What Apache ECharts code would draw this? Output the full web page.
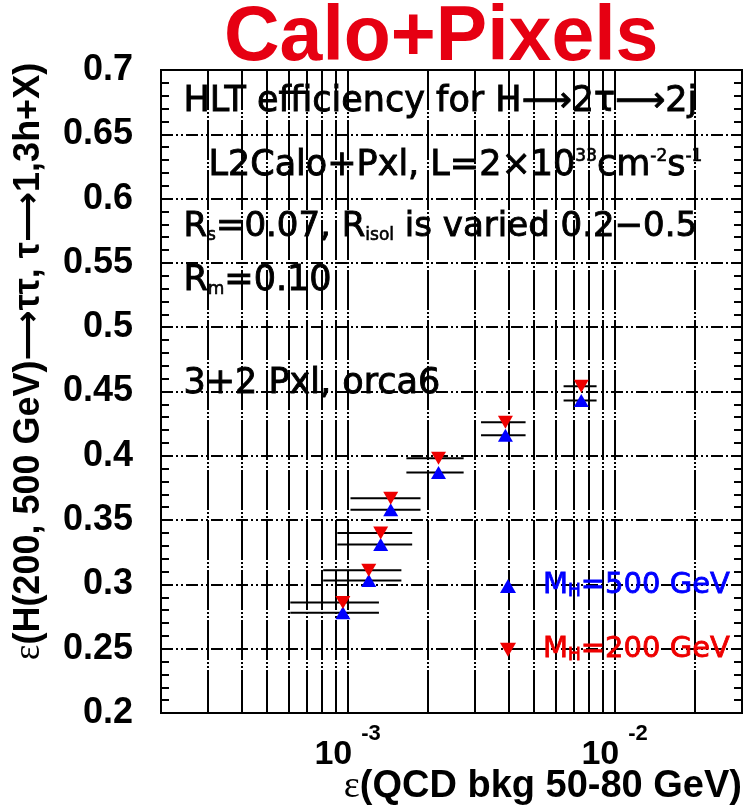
<!DOCTYPE html>
<html><head><meta charset="utf-8">
<script src="https://cdn.jsdelivr.net/npm/echarts@6/dist/echarts.min.js"></script>
<style>html,body{margin:0;padding:0;background:#fff}#c{width:745px;height:807px}</style>
</head><body><div id="c"></div>
<script>
// ---- data ----
const xTickValues = [2e-4,3e-4,4e-4,5e-4,6e-4,7e-4,8e-4,9e-4,1e-3,2e-3,3e-3,4e-3,5e-3,6e-3,7e-3,8e-3,9e-3,1e-2,2e-2,3e-2];
const xLabelValues = [1e-3, 1e-2];
const yMin = 0.2, yMax = 0.7, yStep = 0.05;
const bkgEff = [9.6e-4, 1.2e-3, 1.33e-3, 1.45e-3, 2.19e-3, 3.9e-3, 7.5e-3];
const bkgErr = [3.5e-4, 3.9e-4, 4.15e-4, 4.25e-4, 5.3e-4, 7.4e-4, 1.06e-3];
const effMH500 = [0.278, 0.303, 0.331, 0.358, 0.387, 0.416, 0.443];
const effMH200 = [0.286, 0.311, 0.340, 0.367, 0.398, 0.426, 0.454];
const seriesNames = ['M500', 'M200'];
const legendLabels = ['=500 GeV', '=200 GeV'];

const FONT = '"Liberation Sans", Arial, Helvetica, sans-serif';
const TFONT = '"DejaVu Sans", "Liberation Sans", sans-serif';
const BLUE = '#0000ff', RED = '#ee0000';
const DOWN_TRI = 'path://M0,0L10,0L5,8.7Z';

const chart = echarts.init(document.getElementById('c'));

function errSeries(yArr, name) {
  return {
    type: 'custom', name: name, silent: true, z: 3, clip: true,
    encode: {x: 0, y: 1},
    data: bkgEff.map((x, i) => [x, yArr[i], bkgErr[i]]),
    renderItem: function (params, api) {
      const x = api.value(0), y = api.value(1), e = api.value(2);
      const p1 = api.coord([x - e, y]), p2 = api.coord([x + e, y]);
      return {type: 'line', shape: {x1: p1[0], y1: p1[1], x2: p2[0], y2: p2[1]},
              style: {stroke: '#000', lineWidth: 2}};
    }
  };
}

const hGrid = [12, 3, 2, 3, 2, 3];
const vGrid = [40, 2, 2, 2, 2, 2];
const AR = {fontFamily: '"DejaVu Sans", sans-serif', fontWeight: 'bold', fontSize: 35, color: '#000'};
const TXT = {fontFamily: TFONT, fontSize: 35, fill: '#000', stroke: '#000', lineWidth: 0.9};
const SUB = {fontFamily: TFONT, fontSize: 17, fill: '#000', stroke: '#000', lineWidth: 0.6};

const option = {
  animation: false,
  backgroundColor: '#fff',
  title: {
    text: 'Calo+Pixels', left: 224, top: 0, padding: 0,
    textStyle: {fontFamily: FONT, fontSize: 77, fontWeight: 'bold', color: '#e60012'}
  },
  grid: {left: 161, top: 70, right: 3, bottom: 94, containLabel: false, outerBoundsMode: 'none',
         show: true, borderColor: '#000', borderWidth: 2, backgroundColor: 'transparent'},
  xAxis: {
    type: 'log', min: 2e-4, max: 3e-2, logBase: 10,
    name: '{e|ε}{t|(QCD bkg 50-80 GeV)}', nameLocation: 'end', nameGap: 0, nameMoveOverlap: false,
    nameTextStyle: {align: 'right', verticalAlign: 'top', padding: [55, 0, 0, 0],
      rich: {e: {fontFamily: '"Liberation Serif", serif', fontSize: 38, color: '#000'},
             t: {fontFamily: FONT, fontSize: 38, fontWeight: 'bold', color: '#000'}}},
    axisLine: {show: true, lineStyle: {color: '#000', width: 2}},
    axisTick: {show: true, inside: true, length: 14, customValues: xTickValues, lineStyle: {color: '#000', width: 2}},
    minorTick: {show: false},
    axisLabel: {
      customValues: xLabelValues, margin: 10,
      formatter: v => '{b|10}{s|' + Math.round(Math.log10(v)) + '}',
      rich: {
        b: {fontFamily: FONT, fontSize: 34, fontWeight: 'bold', color: '#000', lineHeight: 64},
        s: {fontFamily: FONT, fontSize: 22, fontWeight: 'bold', color: '#000', lineHeight: 22, padding: [0, 0, 0, 9], verticalAlign: 'top'}
      }
    },
    splitLine: {show: true, lineStyle: {color: '#000', width: 2, type: vGrid}}
  },
  yAxis: [{
    type: 'value', min: yMin, max: yMax, interval: yStep,
    name: '{e|ε}{t|(H(200, 500 GeV)}{a|⟶}{t|ττ, τ}{a|⟶}{t|1,3h+X)}', nameLocation: 'middle', nameGap: 113,
    nameMoveOverlap: false,
    nameTextStyle: {padding: [0, 0, 0, 60],
      rich: {e: {fontFamily: '"Liberation Serif", serif', fontSize: 37, color: '#000'},
             t: {fontFamily: FONT, fontSize: 36, fontWeight: 'bold', color: '#000'},
             a: AR}},
    axisLine: {show: true, lineStyle: {color: '#000', width: 2}},
    axisTick: {show: true, inside: true, length: 9, lineStyle: {color: '#000', width: 2}},
    minorTick: {show: true, splitNumber: 5, length: 8, lineStyle: {color: '#000', width: 2}},
    axisLabel: {margin: 28, fontFamily: FONT, fontSize: 36, fontWeight: 'bold', color: '#000',
                formatter: v => String(+v.toFixed(2))},
    splitLine: {show: true, lineStyle: {color: '#000', width: 2, type: hGrid}}
  }, {
    type: 'value', min: yMin, max: yMax, interval: yStep, position: 'right',
    axisLine: {show: true, lineStyle: {color: '#000', width: 2}},
    axisTick: {show: true, inside: true, length: 9, lineStyle: {color: '#000', width: 2}},
    minorTick: {show: true, splitNumber: 5, length: 8, lineStyle: {color: '#000', width: 2}},
    axisLabel: {show: false}, splitLine: {show: false}
  }],
  legend: {
    orient: 'vertical', left: 495, top: 566, itemWidth: 16, itemHeight: 14, itemGap: 34,
    selectedMode: false,
    data: [
      {name: seriesNames[0], icon: 'triangle', textStyle: {color: BLUE, textBorderColor: BLUE}},
      {name: seriesNames[1], icon: DOWN_TRI, textStyle: {color: RED, textBorderColor: RED}}
    ],
    formatter: n => '{m|M}{s|H}{m|' + legendLabels[seriesNames.indexOf(n)] + '}',
    textStyle: {fontFamily: TFONT, fontSize: 29, padding: [0, 0, 0, 22], textBorderWidth: 0.8,
      rich: {m: {fontFamily: TFONT, fontSize: 29}, s: {fontFamily: TFONT, fontSize: 17, verticalAlign: 'bottom'}}}
  },
  graphic: [
    {type: 'text', left: 183, top: 84, z: 10, style: Object.assign({text: 'HLT efficiency for H⟶2τ⟶2j'}, TXT)},
    {type: 'text', left: 208, top: 148, z: 10, style: Object.assign({text: 'L2Calo+Pxl, L=2×10{p|33}cm{p|-2}s{p|-1}',
      rich: {p: Object.assign({verticalAlign: 'top'}, SUB)}}, TXT)},
    {type: 'text', left: 183, top: 210, z: 10, style: Object.assign({text: 'R{b|s}=0.07, R{b|isol} is varied 0.2−0.5',
      rich: {b: Object.assign({verticalAlign: 'bottom'}, SUB)}}, TXT, {fontSize: 34})},
    {type: 'text', left: 183, top: 263, z: 10, style: Object.assign({text: 'R{b|m}=0.10',
      rich: {b: Object.assign({verticalAlign: 'bottom'}, SUB)}}, TXT)},
    {type: 'text', left: 183, top: 366, z: 10, style: Object.assign({text: '3+2 Pxl, orca6'}, TXT)}
  ],
  series: [
    errSeries(effMH500, 'err500'),
    errSeries(effMH200, 'err200'),
    {type: 'scatter', name: seriesNames[0], z: 5, symbol: 'triangle', symbolSize: [15, 13],
     itemStyle: {color: BLUE, opacity: 1}, data: bkgEff.map((x, i) => [x, effMH500[i]])},
    {type: 'scatter', name: seriesNames[1], z: 6, symbol: DOWN_TRI, symbolSize: [15, 13],
     itemStyle: {color: RED, opacity: 1}, data: bkgEff.map((x, i) => [x, effMH200[i]])}
  ]
};
chart.setOption(option);
</script></body></html>
